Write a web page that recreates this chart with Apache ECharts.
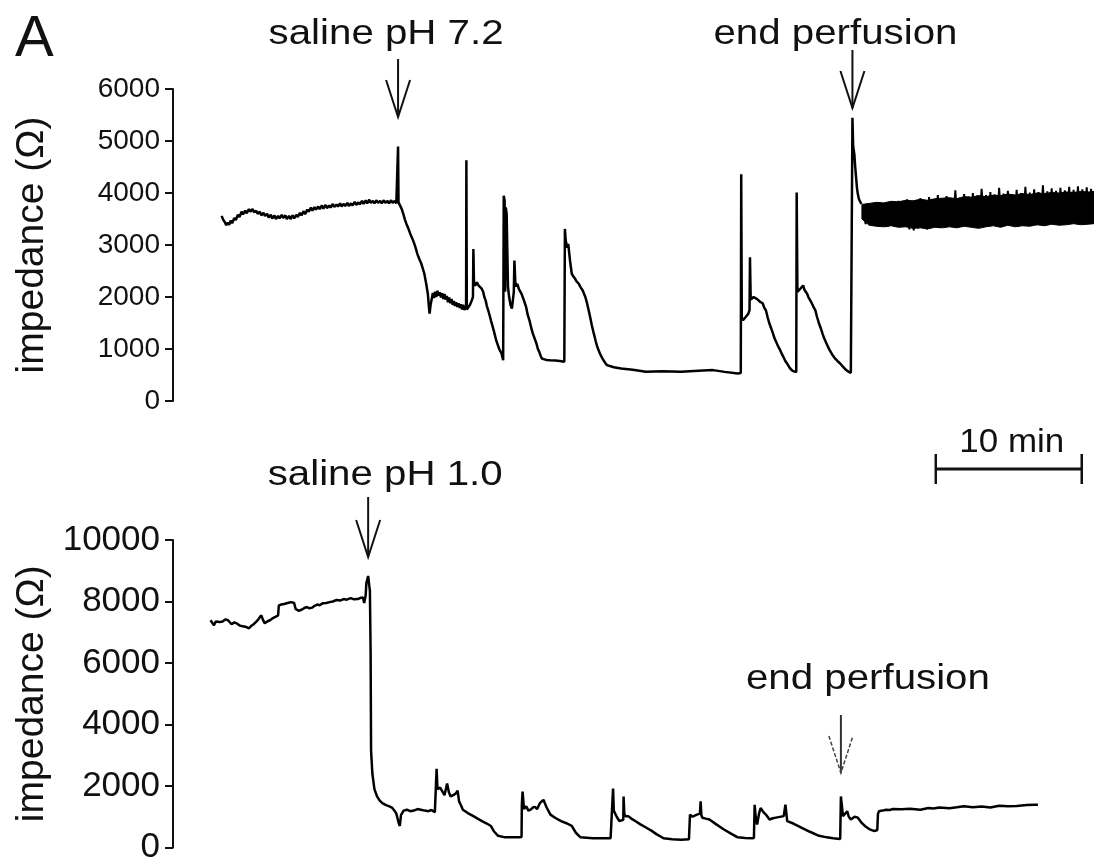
<!DOCTYPE html>
<html>
<head>
<meta charset="utf-8">
<script src="https://cdn.jsdelivr.net/npm/echarts@6/dist/echarts.min.js"></script>
<style>
html,body{margin:0;padding:0;background:#fff;}
#c{width:1094px;height:865px;}
</style>
</head>
<body>
<div id="c"></div>
<script>
// ---------------- DATA ----------------
// time in minutes, impedance in ohm
const panelLetter = 'A';
const yAxisName = 'impedance (Ω)';
const topTicks = [0, 1000, 2000, 3000, 4000, 5000, 6000];
const bottomTicks = [0, 2000, 4000, 6000, 8000, 10000];

// top trace: saline pH 7.2
const topTrace = [
[3.33,3560],[3.45,3480],[3.55,3440],[3.65,3380],[3.75,3430],[3.85,3390],[3.95,3470],[4.05,3420],[4.2,3520],[4.3,3480],[4.45,3580],[4.55,3540],[4.7,3640],[4.8,3590],[4.95,3660],[5.05,3610],[5.2,3690],[5.3,3640],[5.45,3690],[5.55,3630],[5.7,3660],[5.8,3600],[5.95,3640],[6.05,3570],[6.2,3620],[6.3,3560],[6.45,3600],[6.55,3530],[6.7,3580],[6.8,3510],[6.95,3570],[7.05,3500],[7.2,3560],[7.3,3510],[7.45,3580],[7.55,3520],[7.7,3570],[7.8,3500],[7.95,3560],[8.05,3500],[8.2,3570],[8.3,3510],[8.45,3580],[8.55,3540],[8.7,3620],[8.8,3570],[8.95,3650],[9.05,3590],[9.2,3680],[9.3,3640],[9.45,3720],[9.55,3660],[9.7,3730],[9.8,3680],[9.95,3740],[10.05,3690],[10.2,3760],[10.3,3700],[10.45,3770],[10.55,3710],[10.7,3760],[10.8,3720],[10.95,3790],[11.05,3730],[11.2,3780],[11.3,3740],[11.45,3800],[11.55,3740],[11.7,3790],[11.8,3750],[11.95,3810],[12.05,3750],[12.2,3800],[12.3,3760],[12.45,3830],[12.55,3770],[12.7,3820],[12.8,3780],[12.95,3850],[13.05,3790],[13.2,3860],[13.3,3800],[13.45,3870],[13.55,3810],[13.7,3850],[13.8,3800],[13.95,3860],[14.05,3810],[14.2,3850],[14.3,3800],[14.45,3860],[14.55,3810],[14.7,3850],[14.8,3800],[14.95,3860],[15.05,3810],[15.2,3850],[15.3,3800],[15.39,3830],
[15.42,4892],[15.45,3820],[15.54,3787],[15.66,3700],[15.78,3596],[15.9,3480],[16.0,3400],[16.12,3320],[16.26,3213],[16.4,3120],[16.5,3050],[16.62,2950],[16.74,2830],[16.86,2740],[17.0,2650],[17.1,2560],[17.22,2447],[17.35,2250],[17.46,2064],[17.52,1850],
[17.58,1680],[17.65,1850],[17.72,1950],[17.8,2080],[17.88,1980],[17.96,2100],[18.04,2000],[18.12,2120],[18.2,2030],[18.28,2090],[18.36,1990],[18.44,2070],[18.52,1960],[18.6,2060],[18.68,1950],[18.76,2020],[18.84,1900],[18.92,1990],[19.0,1880],[19.08,1960],[19.16,1850],[19.24,1920],[19.32,1830],[19.4,1900],[19.48,1810],[19.56,1880],[19.64,1790],[19.72,1860],[19.8,1760],[19.88,1850],[19.96,1750],[20.04,1820],[20.08,1780],
[20.1,4631],[20.13,1760],[20.22,1744],[20.35,1850],[20.47,1935],[20.55,2000],[20.58,2925],[20.62,2300],[20.7,2220],[20.82,2280],[20.94,2220],[21.06,2255],[21.15,2160],[21.25,2100],[21.33,2000],[21.42,1935],[21.5,1830],[21.6,1740],[21.7,1640],[21.78,1552],[21.9,1430],[22.0,1330],[22.14,1169],[22.25,1080],[22.35,1000],[22.51,914],[22.62,786],
[22.66,3947],[22.72,3850],[22.76,2100],[22.8,3723],[22.86,3600],[22.95,2200],[23.03,1999],[23.12,1850],[23.22,1776],[23.35,2100],[23.39,2702],[23.45,2300],[23.52,2200],[23.59,2255],[23.7,2150],[23.8,2180],[23.88,2060],[23.95,2064],[24.05,1930],[24.2,1800],[24.3,1660],[24.42,1552],[24.55,1400],[24.65,1300],[24.78,1200],[24.9,1105],[25.0,1000],[25.1,940],[25.2,860],[25.27,818],[25.45,800],[25.6,790],[25.82,786],[26.2,780],[26.5,770],[26.81,753],
[26.85,3309],[26.9,3100],[27.0,2950],[27.08,3021],[27.2,2700],[27.32,2447],[27.42,2400],[27.55,2350],[27.65,2300],[27.8,2255],[27.9,2200],[28.0,2180],[28.08,2120],[28.16,2094],[28.25,2000],[28.35,1900],[28.45,1780],[28.53,1680],[28.62,1560],[28.7,1450],[28.8,1330],[28.89,1232],[28.97,1140],[29.05,1060],[29.15,980],[29.25,914],[29.4,830],[29.5,780],[29.62,730],[29.73,690],[30.2,650],[30.7,626],[31.5,600],[32.4,562],[33.5,570],[34.8,562],[36.0,580],[37.0,594],[37.8,560],[38.69,530],[38.9,540],
[38.93,4362],[38.97,1600],[39.05,1552],[39.25,1620],[39.42,1680],[39.5,1750],[39.53,2765],[39.58,1950],[39.66,1935],[39.78,2000],[39.9,1990],[40.02,1960],[40.14,1967],[40.26,1900],[40.4,1880],[40.5,1800],[40.62,1744],[40.75,1600],[40.85,1500],[40.98,1400],[41.11,1296],[41.22,1200],[41.35,1120],[41.48,1040],[41.6,977],[41.72,900],[41.85,830],[41.95,770],[42.07,722],[42.2,660],[42.3,620],[42.45,580],[42.56,562],[42.7,555],
[42.73,4011],[42.78,2100],[42.86,2064],[42.95,2150],[43.0,2180],[43.08,2120],[43.17,2222],[43.26,2140],[43.35,2100],[43.45,2060],[43.53,1999],[43.65,1940],[43.8,1860],[43.9,1800],[44.01,1744],[44.12,1620],[44.25,1500],[44.38,1400],[44.5,1296],[44.62,1200],[44.75,1120],[44.88,1040],[44.99,977],[45.15,900],[45.35,820],[45.52,770],[45.71,722],[45.9,660],[46.1,600],[46.3,560],[46.44,543],[46.52,560],
[46.55,5448],[46.6,4900],[46.68,4746],[46.74,4500],[46.8,4298],[46.86,4100],[46.92,3979],[47.0,3880],[47.05,3850],[47.16,3787]
];
// noisy recording after end of perfusion (top): extremes
const topTail = [
[47.30,3760],[47.45,3400],[47.60,3790],[47.75,3380],[47.90,3740],[48.05,3420],[48.20,3780],[48.35,3360],[48.50,3800],[48.65,3410],
[48.80,3770],[48.95,3350],[49.10,3820],[49.25,3400],[49.40,3790],[49.55,3380],[49.70,3850],[49.85,3420],[50.00,3800],[50.15,3360],
[50.30,3880],[50.45,3300],[50.60,3820],[50.75,3280],[50.90,3860],[51.05,3320],[51.20,3900],[51.35,3380],[51.50,3840],[51.65,3300],
[51.80,3920],[51.95,3350],[52.10,3870],[52.25,3400],[52.40,3960],[52.55,3330],[52.70,3880],[52.85,3380],[53.00,3940],[53.15,3410],
[53.30,3900],[53.45,3360],[53.60,4050],[53.75,3400],[53.90,3910],[54.05,3370],[54.20,3980],[54.35,3420],[54.50,3930],[54.65,3350],
[54.80,4000],[54.95,3400],[55.10,3950],[55.25,3380],[55.40,4080],[55.55,3430],[55.70,3960],[55.85,3390],[56.00,4020],[56.15,3420],
[56.30,3970],[56.45,3370],[56.60,4100],[56.75,3440],[56.90,3990],[57.05,3400],[57.20,4040],[57.35,3380],[57.50,3980],[57.65,3430],
[57.80,4060],[57.95,3360],[58.10,4000],[58.25,3420],[58.40,4120],[58.55,3400],[58.70,4010],[58.85,3440],[59.00,4070],[59.15,3380],
[59.30,4020],[59.45,3430],[59.60,4150],[59.75,3410],[59.90,4030],[60.05,3450],[60.20,4090],[60.35,3400],[60.50,4040],[60.65,3440],
[60.80,4100],[60.95,3390],[61.10,4050],[61.25,3460],[61.40,4120],[61.55,3420],[61.70,4060],[61.85,3450],[62.00,4130],[62.15,3410],
[62.30,4070],[62.45,3460],[62.60,4110],[62.75,3430],[62.90,4080],[63.05,3470]
];
// dense core of that noisy band (lower / upper edge)
const tailCoreTime = [47.2,47.7,48.2,48.7,49.2,49.7,50.2,50.7,51.2,51.7,52.2,52.7,53.2,53.7,54.2,54.7,55.2,55.7,56.2,56.7,57.2,57.7,58.2,58.7,59.2,59.7,60.2,60.7,61.2,61.7,62.2,62.7,63.1];
const tailCoreLow  = [3500,3380,3360,3350,3370,3340,3350,3320,3330,3310,3340,3330,3350,3330,3360,3340,3320,3350,3370,3340,3380,3350,3370,3360,3390,3370,3400,3380,3390,3410,3390,3400,3410];
const tailCoreHigh = [3780,3800,3820,3810,3840,3830,3860,3850,3880,3860,3890,3900,3910,3890,3930,3920,3950,3930,3960,3950,3980,3960,3990,3970,4000,3990,4010,4000,4020,4010,4030,4020,4030];

// bottom trace: saline pH 1.0
const bottomTrace = [
[2.57,7390],[2.7,7300],[2.81,7230],[2.93,7350],[3.05,7410],[3.2,7330],[3.4,7350],[3.6,7420],[3.77,7390],[4.01,7260],[4.2,7320],[4.4,7280],[4.6,7210],[4.73,7230],[4.95,7180],[5.21,7130],[5.35,7200],[5.5,7250],[5.69,7340],[5.85,7420],[6.05,7550],[6.15,7420],[6.29,7290],[6.45,7350],[6.65,7390],[6.85,7460],[7.01,7500],[7.2,7550],[7.25,7870],[7.4,7900],[7.61,7920],[7.85,7950],[8.09,7980],[8.3,7950],[8.4,7760],[8.45,7710],[8.6,7700],[8.81,7730],[9.0,7790],[9.17,7820],[9.35,7780],[9.53,7800],[9.7,7860],[9.89,7900],[10.05,7880],[10.25,7940],[10.5,7950],[10.73,7980],[10.95,8000],[11.21,8050],[11.45,8030],[11.69,8080],[11.9,8060],[12.18,8110],[12.4,8070],[12.66,8080],[12.85,8120],[13.01,8130],[13.1,7950],[13.2,8200],[13.25,8610],[13.37,8830],[13.45,8500],[13.49,8350],
[13.54,6330],[13.57,3140],[13.66,2400],[13.8,1900],[13.98,1660],[14.15,1530],[14.34,1440],[14.6,1380],[14.82,1340],[15.0,1300],[15.1,1250],[15.2,1180],[15.3,1100],[15.45,820],[15.54,700],[15.62,1050],[15.8,1200],[16.02,1230],[16.25,1180],[16.5,1200],[16.75,1250],[16.98,1230],[17.25,1200],[17.5,1180],[17.7,1220],[17.94,1150],[18.02,1180],
[18.06,2560],[18.12,1900],[18.3,1950],[18.42,1975],[18.6,1700],[18.78,2080],[18.9,1800],[19.02,1660],[19.2,1700],[19.38,1760],[19.5,1850],[19.6,1500],[19.75,1350],[19.86,1230],[20.2,1120],[20.58,1020],[20.9,930],[21.2,850],[21.5,780],[21.78,700],[22.0,520],[22.27,380],[22.75,330],[23.2,330],[23.71,330],[23.88,340],
[23.9,1400],[23.95,1820],[24.05,1250],[24.2,1340],[24.35,1200],[24.5,1230],[24.65,1300],[24.8,1320],[24.95,1250],[25.14,1444],[25.38,1550],[25.6,1300],[25.86,1070],[26.2,960],[26.59,860],[27.0,780],[27.32,700],[27.6,480],[27.92,330],[28.77,300],[29.98,300],[30.1,320],
[30.15,1920],[30.2,1200],[30.27,1125],[30.4,1000],[30.58,860],[30.85,900],[30.87,1660],[30.92,1100],[31.0,1020],[31.19,1020],[31.4,940],[31.67,860],[32.0,760],[32.4,650],[32.8,540],[33.12,435],[33.61,300],[34.2,270],[34.82,255],[35.35,270],
[35.42,1070],[35.6,1000],[35.85,1060],[36.1,1100],[36.15,1500],[36.2,1050],[36.27,970],[36.5,940],[36.75,910],[37.2,760],[37.72,595],[38.2,460],[38.69,330],[39.2,310],[39.66,300],[39.8,310],
[39.85,1390],[39.92,1000],[40.02,750],[40.15,1100],[40.26,1285],[40.45,1150],[40.62,1070],[40.87,910],[41.1,950],[41.4,980],[41.84,1020],[41.96,1390],[42.08,860],[42.5,780],[43.05,650],[43.6,520],[44.26,380],[44.8,330],[45.23,300],[45.71,275],
[45.76,1660],[45.9,1020],[46.05,1100],[46.19,1180],[46.3,1000],[46.44,910],[46.7,1000],[46.92,970],[47.15,820],[47.4,700],[47.7,600],[48.01,540],[48.25,560],
[48.3,1100],[48.37,1180],[48.6,1200],[48.86,1230],[49.1,1220],[49.34,1250],[49.9,1240],[50.5,1260],[51.2,1230],[51.76,1285],[52.1,1270],[52.5,1300],[53.2,1280],[53.7,1310],[54.18,1340],[54.8,1310],[55.4,1330],[56.0,1300],[56.6,1360],[57.2,1340],[57.8,1350],[58.5,1380],[59.02,1390],[59.26,1390]
];

// event annotations (time in minutes)
const topEvents = [
  {label: 'saline pH 7.2', t: 15.42},
  {label: 'end perfusion', t: 46.55}
];
const bottomEvents = [
  {label: 'saline pH 1.0', t: 13.37},
  {label: 'end perfusion', t: 45.76}
];
const scaleBar = {start: 52.26, length: 10, label: '10 min'};

// ---------------- LAYOUT / STYLE ----------------
const FONT = "'Liberation Sans', Arial, Helvetica, sans-serif";
const layout = {
  top: [
    {tipY: 117, len: 58, dx: -12, labelY: 34, dashed: false},
    {tipY: 108, len: 58, dx: -17, labelY: 34, dashed: false}
  ],
  bottom: [
    {tipY: 557, len: 60, dx: 17, labelY: 475, dashed: false},
    {tipY: 773, len: 58, dx: 27, labelY: 679, dashed: true}
  ],
  labelFont: 35, labelScaleX: 1.15,
  scaleY: 469, scaleLabelY: 443, scaleFont: 33, scaleScaleX: 1.06
};

function makeYAxis(gridIndex, ticks, labelSize) {
  return {
    type: 'value',
    gridIndex: gridIndex,
    min: ticks[0], max: ticks[ticks.length - 1], interval: ticks[1] - ticks[0],
    axisLine: {show: true, lineStyle: {color: '#111', width: 2}},
    axisTick: {show: true, length: 8, lineStyle: {color: '#111', width: 2}},
    axisLabel: {fontSize: labelSize, color: '#111', fontFamily: FONT, margin: 13, formatter: v => String(v)},
    splitLine: {show: false},
    name: yAxisName,
    nameLocation: 'middle',
    nameRotate: 90,
    nameGap: 121,
    nameTextStyle: {fontSize: 39, color: '#111', fontFamily: FONT}
  };
}

const TRACE = {color: '#000', width: 2.5};
const option = {
  animation: false,
  backgroundColor: '#fff',
  title: {text: panelLetter, left: 10, top: 6, textStyle: {fontSize: 58, fontWeight: 'normal', color: '#111', fontFamily: FONT}},
  grid: [
    {left: 173, right: 0, top: 89, height: 312},
    {left: 173, right: 0, top: 540, height: 313}
  ],
  xAxis: [
    {type: 'value', gridIndex: 0, min: 0, max: 63.1, show: false},
    {type: 'value', gridIndex: 1, min: 0, max: 63.1, show: false}
  ],
  yAxis: [makeYAxis(0, topTicks, 28), makeYAxis(1, bottomTicks, 35)],
  series: [
    {type: 'line', xAxisIndex: 0, yAxisIndex: 0, data: topTrace, showSymbol: false, lineStyle: TRACE},
    {type: 'custom', xAxisIndex: 0, yAxisIndex: 0,
      data: tailCoreTime.map((t, i) => [t, tailCoreLow[i], tailCoreHigh[i]]),
      encode: {x: 0, y: [1, 2]},
      renderItem: function (params, api) {
        if (params.dataIndex !== 0) return null;
        const pts = [];
        for (let i = 0; i < tailCoreTime.length; i++) pts.push(api.coord([tailCoreTime[i], tailCoreHigh[i]]));
        for (let i = tailCoreTime.length - 1; i >= 0; i--) pts.push(api.coord([tailCoreTime[i], tailCoreLow[i]]));
        return {type: 'polygon', shape: {points: pts}, style: {fill: '#000', stroke: '#000', lineWidth: 1}};
      }
    },
    {type: 'line', xAxisIndex: 0, yAxisIndex: 0, data: topTail, showSymbol: false, lineStyle: {color: '#000', width: 2}},
    {type: 'line', xAxisIndex: 1, yAxisIndex: 1, data: bottomTrace, showSymbol: false, lineStyle: TRACE}
  ]
};

const chart = echarts.init(document.getElementById('c'), null, {renderer: 'canvas'});
chart.setOption(option);

// annotations placed through the axis scales
const g = [];
function addEvent(ev, gridIndex, lay) {
  const x = chart.convertToPixel({gridIndex: gridIndex}, [ev.t, 0])[0];
  const tip = lay.tipY;
  g.push({type: 'line', shape: {x1: x, y1: tip - lay.len, x2: x, y2: tip}, style: {stroke: lay.dashed ? '#333' : '#111', lineWidth: 2}, silent: true});
  g.push({type: 'polyline', shape: {points: [[x - 12, tip - 37], [x, tip], [x + 12, tip - 37]]},
          style: {stroke: lay.dashed ? '#444' : '#111', lineWidth: lay.dashed ? 1.5 : 2, fill: null, lineDash: lay.dashed ? [4, 2] : null}, silent: true});
  g.push({type: 'text', x: x + lay.dx, y: lay.labelY, scaleX: layout.labelScaleX, scaleY: 1,
          style: {text: ev.label, fill: '#111', font: layout.labelFont + 'px ' + FONT, textAlign: 'center', textVerticalAlign: 'middle'}, silent: true});
}
topEvents.forEach((ev, i) => addEvent(ev, 0, layout.top[i]));
bottomEvents.forEach((ev, i) => addEvent(ev, 1, layout.bottom[i]));

const sx1 = chart.convertToPixel({gridIndex: 0}, [scaleBar.start, 0])[0];
const sx2 = chart.convertToPixel({gridIndex: 0}, [scaleBar.start + scaleBar.length, 0])[0];
const sy = layout.scaleY;
g.push({type: 'line', shape: {x1: sx1, y1: sy, x2: sx2, y2: sy}, style: {stroke: '#111', lineWidth: 3}, silent: true});
g.push({type: 'line', shape: {x1: sx1, y1: sy - 15, x2: sx1, y2: sy + 15}, style: {stroke: '#111', lineWidth: 2.5}, silent: true});
g.push({type: 'line', shape: {x1: sx2, y1: sy - 15, x2: sx2, y2: sy + 15}, style: {stroke: '#111', lineWidth: 2.5}, silent: true});
g.push({type: 'text', x: (sx1 + sx2) / 2 + 3, y: layout.scaleLabelY, scaleX: layout.scaleScaleX, scaleY: 1,
        style: {text: scaleBar.label, fill: '#111', font: layout.scaleFont + 'px ' + FONT, textAlign: 'center', textVerticalAlign: 'middle'}, silent: true});

chart.setOption({graphic: {elements: g}});
</script>
</body>
</html>
